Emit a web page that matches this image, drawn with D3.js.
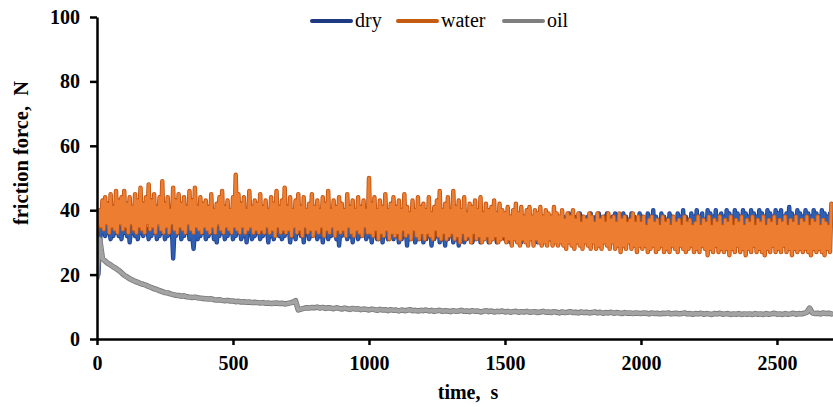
<!DOCTYPE html>
<html>
<head>
<meta charset="utf-8">
<script src="https://cdn.jsdelivr.net/npm/d3@7/dist/d3.min.js"></script>
<style>
  html, body { margin: 0; padding: 0; background: #fff; }
  svg { display: block; }
  .axis text { font-family: "Liberation Serif", "Times New Roman", serif; font-weight: bold; font-size: 20px; fill: #000; }
  .axis path, .axis line { stroke: #000; stroke-width: 2.5px; }
</style>
</head>
<body>
<svg id="chart" width="833" height="407"></svg>
<script>
// Sampling intervals of the recorded friction force, seconds
const fastStep = 5;   // dry and water traces
const oilStep = 10;   // oil trace

const seriesNames = ["dry", "water", "oil"];
const xTicks = [0, 500, 1000, 1500, 2000, 2500];
const yTicks = [0, 20, 40, 60, 80, 100];

// Friction force, N — dry contact (one row = 100 s)
const dry = [
  22, 20, 28, 36, 33, 35, 32, 36, 33, 34, 31, 36, 32, 35, 33, 37, 32, 34, 31, 36,
  33, 35, 32, 36, 30, 34, 33, 36, 32, 35, 31, 34, 33, 36, 32, 35, 33, 34, 31, 36,
  32, 35, 33, 36, 31, 34, 32, 36, 33, 35, 31, 34, 32, 36, 33, 35, 25, 34, 32, 36,
  33, 35, 31, 34, 32, 36, 33, 35, 31, 34, 32, 28, 33, 36, 31, 35, 32, 34, 33, 36,
  31, 35, 32, 34, 33, 36, 31, 35, 30, 34, 32, 36, 33, 35, 31, 34, 32, 36, 33, 35,
  31, 34, 32, 36, 33, 35, 31, 34, 32, 36, 30, 35, 33, 34, 31, 36, 32, 35, 33, 34,
  31, 36, 32, 35, 33, 34, 30, 36, 32, 35, 31, 34, 33, 36, 32, 35, 31, 34, 32, 36,
  33, 35, 30, 34, 32, 36, 31, 35, 33, 34, 32, 36, 30, 35, 33, 34, 31, 36, 32, 35,
  33, 34, 31, 36, 32, 35, 30, 34, 33, 36, 31, 35, 32, 34, 33, 36, 31, 35, 29, 34,
  32, 36, 33, 35, 31, 34, 32, 36, 30, 35, 33, 34, 31, 36, 32, 35, 33, 34, 31, 36,
  32, 35, 30, 34, 33, 36, 31, 35, 32, 34, 30, 36, 32, 35, 31, 34, 33, 36, 31, 35,
  32, 34, 30, 36, 31, 35, 32, 34, 29, 36, 31, 35, 32, 34, 30, 36, 31, 35, 32, 34,
  30, 36, 31, 35, 32, 34, 29, 35, 31, 34, 32, 36, 30, 35, 31, 34, 29, 36, 31, 35,
  32, 34, 30, 36, 31, 35, 29, 34, 32, 36, 30, 35, 31, 34, 32, 36, 30, 35, 31, 34,
  32, 36, 30, 35, 31, 34, 32, 36, 30, 35, 31, 34, 32, 36, 30, 35, 31, 34, 32, 36,
  31, 35, 32, 36, 30, 35, 31, 34, 32, 36, 31, 35, 30, 36, 32, 35, 31, 34, 32, 36,
  31, 35, 32, 37, 30, 36, 31, 35, 32, 37, 31, 36, 32, 38, 31, 36, 32, 37, 31, 38,
  32, 37, 31, 38, 32, 36, 31, 39, 32, 37, 31, 38, 32, 37, 31, 39, 32, 38, 31, 37,
  32, 38, 31, 39, 32, 37, 31, 38, 32, 39, 31, 37, 32, 38, 31, 39, 32, 37, 31, 38,
  32, 39, 31, 37, 32, 38, 31, 39, 32, 38, 31, 37, 32, 39, 31, 38, 32, 37, 31, 39,
  32, 38, 31, 37, 32, 39, 31, 38, 32, 40, 31, 38, 32, 37, 31, 39, 32, 38, 31, 37,
  32, 39, 31, 38, 32, 37, 31, 39, 32, 38, 31, 40, 32, 38, 31, 37, 32, 39, 31, 38,
  32, 40, 31, 38, 32, 39, 31, 37, 32, 40, 31, 39, 32, 38, 31, 40, 32, 38, 31, 39,
  32, 38, 31, 40, 32, 39, 31, 38, 32, 40, 31, 39, 32, 38, 31, 40, 32, 39, 31, 38,
  32, 40, 31, 39, 32, 38, 31, 40, 32, 39, 31, 38, 32, 40, 31, 39, 32, 38, 31, 40,
  32, 39, 31, 40, 32, 38, 31, 39, 32, 41, 31, 39, 32, 38, 31, 40, 32, 39, 31, 38,
  32, 40, 31, 39, 32, 38, 31, 40, 32, 39, 31, 38, 32, 40, 31, 39, 32, 38, 31, 39, 37
];

// Friction force, N — water lubricated (one row = 100 s)
const water = [
  33, 36, 40, 35, 43, 34, 44, 36, 42, 33, 45, 35, 41, 34, 46, 33, 43, 36, 44, 34,
  46, 35, 42, 33, 44, 36, 41, 34, 45, 33, 43, 35, 47, 34, 42, 33, 44, 36, 48, 34,
  43, 35, 45, 33, 41, 36, 44, 34, 49, 33, 42, 35, 44, 33, 40, 36, 47, 34, 43, 33,
  45, 35, 42, 34, 44, 33, 41, 36, 46, 34, 43, 33, 47, 35, 41, 34, 44, 33, 42, 35,
  43, 34, 41, 33, 45, 35, 40, 33, 42, 36, 44, 34, 46, 33, 41, 35, 43, 34, 40, 33,
  44, 35, 51, 34, 45, 33, 42, 35, 44, 33, 40, 34, 46, 35, 41, 33, 43, 34, 42, 33,
  45, 34, 41, 33, 43, 35, 40, 33, 44, 34, 42, 32, 46, 35, 41, 33, 43, 34, 47, 33,
  41, 34, 44, 32, 40, 35, 43, 33, 45, 34, 41, 32, 44, 35, 40, 33, 42, 34, 45, 32,
  41, 34, 43, 33, 40, 35, 44, 32, 42, 34, 46, 33, 40, 35, 43, 32, 41, 34, 44, 33,
  42, 34, 40, 32, 45, 35, 41, 33, 43, 32, 40, 34, 44, 33, 41, 32, 43, 35, 40, 33,
  50, 33, 42, 32, 44, 34, 40, 31, 43, 33, 41, 32, 45, 34, 40, 31, 42, 33, 44, 32,
  41, 33, 43, 31, 40, 34, 45, 32, 41, 33, 39, 31, 43, 34, 40, 32, 44, 31, 41, 33,
  42, 31, 40, 33, 44, 32, 39, 31, 41, 34, 43, 32, 46, 31, 40, 33, 42, 31, 44, 32,
  40, 33, 46, 31, 41, 32, 43, 30, 40, 33, 44, 31, 39, 32, 42, 30, 41, 33, 43, 31,
  40, 32, 44, 30, 39, 31, 42, 32, 40, 30, 41, 31, 43, 32, 39, 30, 42, 31, 40, 32,
  39, 30, 41, 31, 38, 29, 40, 31, 42, 30, 39, 29, 41, 31, 38, 30, 40, 29, 41, 31,
  38, 29, 40, 31, 39, 30, 41, 29, 38, 30, 40, 29, 39, 31, 38, 29, 41, 30, 39, 29,
  38, 30, 40, 29, 37, 28, 39, 30, 38, 29, 40, 28, 37, 30, 39, 29, 36, 28, 38, 30,
  37, 29, 39, 28, 38, 30, 36, 28, 39, 29, 37, 28, 38, 30, 36, 29, 39, 28, 37, 30,
  38, 28, 36, 29, 39, 27, 37, 29, 38, 28, 36, 30, 37, 28, 39, 29, 36, 27, 38, 29,
  36, 28, 38, 29, 35, 27, 37, 28, 38, 29, 36, 27, 37, 28, 35, 29, 38, 27, 36, 28,
  37, 27, 35, 29, 38, 28, 36, 27, 37, 29, 35, 28, 38, 27, 36, 28, 37, 29, 35, 27,
  36, 28, 38, 27, 35, 29, 37, 28, 36, 26, 38, 28, 35, 27, 37, 29, 36, 27, 38, 28,
  35, 27, 37, 28, 36, 26, 38, 28, 35, 27, 37, 29, 36, 27, 38, 28, 35, 26, 37, 28,
  36, 27, 38, 29, 35, 27, 37, 28, 36, 27, 38, 26, 35, 28, 37, 27, 36, 29, 38, 27,
  35, 28, 37, 27, 36, 29, 38, 27, 35, 28, 37, 26, 36, 28, 38, 27, 35, 28, 37, 27,
  36, 28, 38, 27, 35, 26, 37, 28, 36, 27, 38, 28, 35, 27, 37, 26, 36, 28, 35, 27, 42
];

// Friction force, N — oil lubricated (one row = 200 s)
const oil = [
  19, 31, 25, 24.2, 23.5, 23.0, 22.4, 21.9, 21.3, 20.6, 19.8, 19.3, 18.7, 18.3, 17.9, 17.6, 17.2, 17.0, 16.7, 16.3,
  16.0, 15.6, 15.4, 15.0, 14.7, 14.4, 14.3, 14.0, 13.8, 13.6, 13.5, 13.3, 13.4, 13.1, 13.0, 12.9, 13.0, 12.8, 12.7, 12.6,
  12.5, 12.4, 12.5, 12.2, 12.1, 12.2, 12.0, 11.9, 12.0, 11.8, 11.8, 11.6, 11.7, 11.5, 11.6, 11.4, 11.5, 11.3, 11.4, 11.3,
  11.2, 11.3, 11.1, 11.2, 11.0, 11.1, 11.2, 11.0, 11.1, 10.9, 11.0, 11.2, 11.4, 11.9, 9.0, 9.3, 9.5, 9.7, 9.6, 9.8,
  9.7, 9.9, 9.6, 9.8, 9.5, 9.7, 9.6, 9.4, 9.7, 9.5, 9.3, 9.6, 9.4, 9.2, 9.5, 9.3, 9.4, 9.1, 9.3, 9.2,
  9.0, 9.3, 9.1, 8.9, 9.2, 9.0, 9.1, 8.8, 9.1, 8.9, 9.0, 8.7, 9.0, 8.8, 8.9, 9.1, 8.8, 8.9, 8.7, 8.9,
  8.8, 9.0, 8.7, 8.9, 8.6, 8.8, 8.9, 8.6, 8.8, 8.7, 8.5, 8.8, 8.6, 8.7, 8.9, 8.6, 8.7, 8.5, 8.8, 8.6,
  8.7, 8.4, 8.6, 8.8, 8.5, 8.7, 8.4, 8.6, 8.5, 8.7, 8.4, 8.6, 8.3, 8.5, 8.6, 8.3, 8.5, 8.4, 8.6, 8.3,
  8.4, 8.5, 8.2, 8.4, 8.6, 8.3, 8.4, 8.2, 8.5, 8.3, 8.1, 8.4, 8.2, 8.3, 8.5, 8.2, 8.3, 8.1, 8.4, 8.2,
  8.3, 8.1, 8.2, 8.4, 8.1, 8.3, 8.0, 8.2, 8.1, 8.3, 8.0, 8.2, 8.1, 7.9, 8.2, 8.0, 8.1, 7.9, 8.1, 8.0,
  7.9, 8.1, 8.0, 7.8, 8.1, 7.9, 8.0, 7.8, 8.0, 7.9, 8.1, 7.8, 7.9, 8.0, 7.8, 7.9, 8.1, 7.8, 7.9, 7.7,
  7.9, 7.8, 8.0, 7.7, 7.9, 7.8, 7.6, 7.9, 7.8, 8.0, 7.7, 7.8, 7.9, 7.6, 7.8, 7.7, 7.9, 7.6, 7.8, 7.7,
  7.8, 7.6, 7.9, 7.7, 7.8, 7.6, 7.9, 7.7, 7.8, 8.0, 7.7, 7.8, 7.6, 7.9, 7.7, 7.8, 8.0, 7.7, 7.9, 7.8,
  8.0, 8.3, 9.6, 8.1, 7.9, 8.0, 7.8, 8.1, 7.9, 8.0, 7.8
];

const styles = {
  dry:   { edge: "#1f3f8f", body: "#2e5fb3", key: "#1f3a80", width: 4.4, step: fastStep },
  water: { edge: "#c0530e", body: "#ed7d31", key: "#c55a11", width: 4.4, step: fastStep },
  oil:   { edge: "#7a7a7a", body: "#a3a3a3", key: "#7f7f7f", width: 5.5, step: oilStep }
};

const svg = d3.select("#chart");
const plot = { left: 97, right: 833, top: 17, bottom: 339 };
const serif = "'Liberation Serif', 'Times New Roman', serif";

const x = d3.scaleLinear().domain([0, 2706]).range([plot.left, plot.right]);
const y = d3.scaleLinear().domain([0, 100]).range([plot.bottom, plot.top]);

svg.append("defs").append("clipPath").attr("id", "plot-clip")
  .append("rect")
  .attr("x", plot.left).attr("y", plot.top - 5)
  .attr("width", plot.right - plot.left).attr("height", plot.bottom - plot.top + 5);

const data = { dry, water, oil };
const lines = svg.append("g").attr("clip-path", "url(#plot-clip)");

// Each trace: a darker rim under a lighter core
seriesNames.forEach(name => {
  const s = styles[name];
  const line = d3.line()
    .x((d, i) => x(i * s.step))
    .y(d => y(d));
  lines.append("path")
    .datum(data[name])
    .attr("d", line)
    .attr("fill", "none")
    .attr("stroke", s.edge)
    .attr("stroke-width", s.width)
    .attr("stroke-linejoin", "round")
    .attr("stroke-linecap", "round");
  lines.append("path")
    .datum(data[name])
    .attr("d", line)
    .attr("fill", "none")
    .attr("stroke", s.body)
    .attr("stroke-width", s.width - 1.7)
    .attr("stroke-linejoin", "round")
    .attr("stroke-linecap", "round");
});

// Axes
svg.append("g")
  .attr("class", "axis")
  .attr("transform", `translate(${plot.left},0)`)
  .call(d3.axisLeft(y).tickValues(yTicks).tickSize(7).tickSizeOuter(0).tickPadding(10));

svg.append("g")
  .attr("class", "axis")
  .attr("transform", `translate(0,${plot.bottom})`)
  .call(d3.axisBottom(x).tickValues(xTicks).tickFormat(d3.format("d"))
    .tickSize(6).tickSizeOuter(0).tickPadding(11));

// Axis titles
svg.append("text")
  .attr("x", 468).attr("y", 399)
  .attr("text-anchor", "middle")
  .style("font-family", serif)
  .style("font-weight", "bold").style("font-size", "20px")
  .style("white-space", "pre")
  .text("time,  s");

svg.append("text")
  .attr("transform", "translate(28,153) rotate(-90)")
  .attr("text-anchor", "middle")
  .style("font-family", serif)
  .style("font-weight", "bold").style("font-size", "20.5px")
  .style("white-space", "pre")
  .text("friction force,  N");

// Legend
const legendItems = [
  { name: "dry", x0: 312 },
  { name: "water", x0: 398 },
  { name: "oil", x0: 504 }
];
const legend = svg.append("g");
legendItems.forEach(item => {
  legend.append("line")
    .attr("x1", item.x0).attr("x2", item.x0 + 39)
    .attr("y1", 21).attr("y2", 21)
    .attr("stroke", styles[item.name].key)
    .attr("stroke-width", 4)
    .attr("stroke-linecap", "round");
  legend.append("text")
    .attr("x", item.x0 + 43).attr("y", 27)
    .style("font-family", serif)
    .style("font-size", "20px")
    .text(item.name);
});
</script>
</body>
</html>
